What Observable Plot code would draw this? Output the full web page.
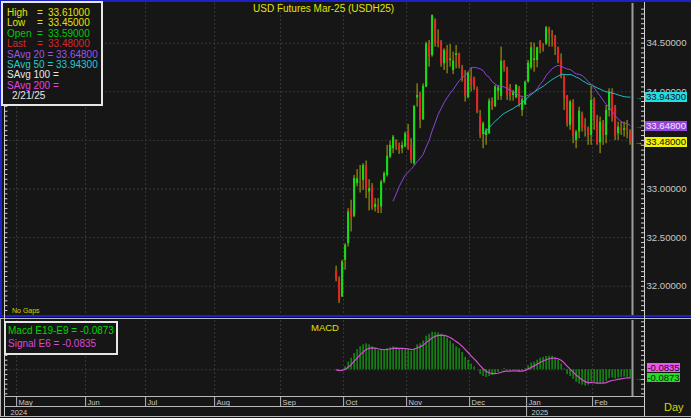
<!DOCTYPE html>
<html><head><meta charset="utf-8">
<script src="https://cdn.jsdelivr.net/npm/d3@7"></script>
<script src="https://cdn.jsdelivr.net/npm/@observablehq/plot@0.6"></script>
<style>
html,body{margin:0;padding:0;background:#161616;}
#wrap{position:relative;width:691px;height:418px;background:#161616;overflow:hidden;font-family:"Liberation Sans",Arial,sans-serif;}
#wrap div{position:absolute;box-sizing:border-box;white-space:pre;}
#wrap svg{display:block;}
</style></head>
<body><div id="wrap"></div>
<script>
// ---------------- data ----------------
const title = "USD Futures Mar-25 (USDH25)";
const firstBarDate = "2024-09-26";
const lastBarDate = "2025-02-21";
const noTradeDays = ["2024-10-14","2024-10-21","2024-12-24","2024-12-25","2024-12-31","2025-01-01","2025-02-07","2025-02-17"];
const monthLabels = ["May","Jun","Jul","Aug","Sep","Oct","Nov","Dec","Jan","Feb"];
const monthStarts = ["2024-05-01","2024-06-01","2024-07-01","2024-08-01","2024-09-01","2024-10-01","2024-11-01","2024-12-01","2025-01-01","2025-02-01"];
const yearLabels = ["2024","2025"];
const yearStarts = ["2024-01-01","2025-01-01"];
const priceTicks = [32, 32.5, 33, 33.5, 34, 34.5];

const open = [
32.154,32.068,31.890,32.267,32.438,32.788,32.719,33.055,33.072,33.089,
33.233,32.969,33.021,32.808,32.822,32.815,33.072,33.140,33.329,33.414,
33.490,33.449,33.414,33.432,33.586,33.449,33.260,33.938,33.979,33.712,
34.048,34.500,34.373,34.740,34.521,34.510,34.288,34.432,34.322,34.219,
34.373,34.384,34.247,34.134,33.938,34.151,34.134,34.031,33.747,33.562,
33.550,33.568,33.918,33.849,34.007,33.952,34.305,34.236,34.041,33.962,
33.938,34.031,33.808,33.866,34.099,34.247,34.322,34.322,34.510,34.442,
34.493,34.640,34.589,34.562,34.452,34.322,34.151,33.952,33.654,33.887,
33.500,33.586,33.767,33.654,33.620,33.551,33.918,33.712,33.473,33.678,
33.551,33.808,33.997,33.842,33.568,33.620,33.603,33.630,33.590];
const high = [
32.205,32.096,32.267,32.438,32.798,32.884,33.140,33.199,33.243,33.260,
33.288,33.096,33.055,32.901,32.901,33.089,33.175,33.449,33.493,33.551,
33.507,33.473,33.483,33.586,33.664,33.517,33.860,34.082,33.997,34.082,
34.510,34.527,34.790,34.750,34.637,34.527,34.442,34.476,34.486,34.408,
34.476,34.397,34.271,34.219,34.202,34.247,34.151,34.048,33.808,33.688,
33.620,33.928,33.938,34.065,34.065,34.459,34.322,34.253,34.075,34.014,
34.075,34.055,33.938,34.110,34.322,34.507,34.500,34.459,34.527,34.493,
34.671,34.664,34.630,34.579,34.459,34.390,34.168,33.962,33.911,33.918,
33.603,33.842,33.791,33.723,33.637,34.055,33.938,33.757,33.740,33.705,
33.860,34.031,34.031,33.860,33.688,33.688,33.688,33.705,33.610];
const low = [
32.044,31.822,31.884,32.164,32.404,32.558,32.705,33.021,32.959,32.986,
32.901,32.774,32.781,32.764,32.747,32.747,33.055,33.123,33.312,33.363,
33.397,33.356,33.363,33.425,33.397,33.260,33.243,33.842,33.620,33.705,
34.041,34.253,34.356,34.459,34.452,34.253,34.219,34.185,34.253,34.178,
34.236,34.236,34.099,33.894,33.928,33.997,34.014,33.774,33.517,33.414,
33.450,33.560,33.808,33.836,33.911,33.911,34.202,33.911,33.904,33.904,
33.928,33.842,33.747,33.860,34.089,34.226,34.202,34.247,34.390,34.408,
34.476,34.459,34.459,34.373,34.288,34.134,33.808,33.637,33.603,33.466,
33.414,33.517,33.586,33.534,33.449,33.449,33.603,33.449,33.363,33.449,
33.466,33.740,33.688,33.500,33.500,33.551,33.534,33.517,33.450];
const close = [
32.068,31.849,32.250,32.421,32.764,32.705,33.106,33.106,33.062,33.243,
32.986,33.003,32.798,32.842,32.788,33.072,33.158,33.336,33.449,33.534,
33.449,33.397,33.449,33.568,33.414,33.295,33.849,33.962,33.705,34.055,
34.493,34.356,34.784,34.493,34.493,34.288,34.425,34.305,34.336,34.315,
34.390,34.271,34.134,33.952,34.192,34.065,34.048,33.791,33.551,33.671,
33.600,33.904,33.842,34.048,34.041,34.315,34.236,33.962,33.952,33.997,
34.065,33.870,33.918,34.099,34.295,34.452,34.339,34.452,34.452,34.432,
34.658,34.603,34.562,34.459,34.305,34.151,33.938,33.671,33.894,33.541,
33.586,33.801,33.630,33.603,33.551,33.911,33.705,33.459,33.688,33.551,
33.808,33.997,33.733,33.551,33.637,33.610,33.620,33.603,33.480];
const macd = [
0.000,-0.020,-0.010,0.030,0.080,0.120,0.170,0.210,0.240,0.260,
0.270,0.260,0.240,0.220,0.200,0.200,0.200,0.220,0.230,0.240,
0.230,0.220,0.220,0.220,0.210,0.190,0.220,0.260,0.270,0.300,
0.350,0.370,0.390,0.390,0.385,0.370,0.350,0.330,0.300,0.270,
0.240,0.220,0.180,0.130,0.100,0.060,0.030,0.000,-0.050,-0.070,
-0.080,-0.070,-0.060,-0.040,-0.030,0.000,0.010,-0.010,-0.010,-0.010,
-0.010,-0.020,-0.010,0.010,0.040,0.070,0.080,0.100,0.120,0.130,
0.140,0.140,0.140,0.120,0.100,0.060,0.010,-0.050,-0.070,-0.100,
-0.130,-0.150,-0.160,-0.170,-0.160,-0.130,-0.140,-0.150,-0.140,-0.140,
-0.120,-0.090,-0.085,-0.095,-0.085,-0.080,-0.075,-0.078,-0.0873];
const signal = [
0.000,-0.006,-0.007,0.004,0.026,0.053,0.087,0.122,0.156,0.186,
0.210,0.224,0.229,0.226,0.219,0.213,0.209,0.212,0.217,0.224,
0.225,0.224,0.223,0.222,0.219,0.211,0.214,0.227,0.239,0.256,
0.283,0.308,0.331,0.348,0.358,0.361,0.358,0.350,0.336,0.317,
0.295,0.273,0.246,0.213,0.180,0.146,0.113,0.081,0.044,0.011,
-0.015,-0.031,-0.039,-0.039,-0.036,-0.026,-0.016,-0.014,-0.013,-0.012,
-0.011,-0.014,-0.013,-0.006,0.007,0.025,0.041,0.058,0.076,0.091,
0.105,0.115,0.122,0.121,0.115,0.099,0.073,0.038,0.007,-0.024,
-0.054,-0.081,-0.104,-0.123,-0.134,-0.133,-0.135,-0.139,-0.139,-0.139,
-0.134,-0.121,-0.111,-0.106,-0.100,-0.094,-0.088,-0.085,-0.0835];

const legendLabels = ["High","Low","Open","Last","SAvg 20","SAvg 50","SAvg 100","SAvg 200"];
const legendValues = ["33.61000","33.45000","33.59000","33.48000","33.64800","33.94300","",""];
const legendDate = "2/21/25";
const macdLegend = ["Macd E19-E9 = -0.0873","Signal E6 = -0.0835"];
const macdTagValues = [-0.0873, -0.0835];

// ---------------- styles ----------------
const C = {bg:"#161616", grid:"#3a3a3a", wick:"#b2ae00", up:"#16dc16", down:"#e22626",
  s20:"#8c46da", s50:"#1fbcbc", macd:"#12cc12", sig:"#d24ed2", axis:"#c8c8c8",
  yellow:"#e2e200", frame:"#b8b8b8", blue:"#1c22c4"};
const legendColors = [C.yellow, C.yellow, "#00cc00", "#d42a2a", "#9a55e6", "#22cccc", "#e8e8e8", "#e044e0"];

// ---------------- derived structure ----------------
const parse = d3.utcParse("%Y-%m-%d"), fmt = d3.utcFormat("%Y-%m-%d");
const first = parse(firstBarDate), last = parse(lastBarDate);
const isWeekday = d => d.getUTCDay() !== 0 && d.getUTCDay() !== 6;
const skip = new Set(noTradeDays);
const barDates = d3.utcDays(first, d3.utcDay.offset(last, 1)).filter(d => isWeekday(d) && !skip.has(fmt(d)));
const bars = open.map((o, i) => ({i, date: barDates[i], open: o, high: high[i], low: low[i], close: close[i], macd: macd[i], signal: signal[i]}));
const xDomain = [-110.2, 98.8];
function slotOf(d) {
  if (d >= first) return bars.findIndex(b => b.date >= d);
  return -d3.utcDays(d, first).filter(isWeekday).length;
}
const monthTicks = monthStarts.map((s, k) => ({label: monthLabels[k], slot: slotOf(parse(s)) - 0.5}));
const yearTicks = yearStarts.map((s, k) => ({label: yearLabels[k], slot: Math.max(xDomain[0], slotOf(parse(s)) - 0.5)}));
const up = d => d.close >= d.open;
const minorP = d3.range(31.75, 34.9, 0.05);
const minorM = d3.range(-0.25, 0.51, 0.05);
const font = {fontFamily: "Liberation Sans, Arial, sans-serif", background: "transparent"};

const wrap = document.getElementById("wrap");
function place(el, x, y) { el.style.position = "absolute"; el.style.left = x + "px"; el.style.top = y + "px"; wrap.appendChild(el); return el; }
function div(x, y, w, h, css, text) {
  const d = document.createElement("div");
  d.style.cssText = `left:${x}px;top:${y}px;width:${w}px;height:${h}px;${css || ""}`;
  if (text !== undefined) d.textContent = text;
  wrap.appendChild(d); return d;
}
function txt(x, y, text, color, size, css) {
  const d = document.createElement("div");
  d.style.cssText = `left:${x}px;top:${y}px;color:${color};font-size:${size}px;line-height:${Math.round(size*1.2)}px;${css || ""}`;
  d.textContent = text; wrap.appendChild(d); return d;
}

// ---------------- main price panel ----------------
const main = Plot.plot({
  width: 691, height: 317, marginLeft: 5, marginRight: 59, marginTop: 3, marginBottom: 2,
  style: font,
  x: {domain: xDomain, axis: null},
  y: {domain: [31.699, 34.908], axis: null},
  color: {type: "identity"},
  marks: [
    Plot.ruleY(priceTicks, {stroke: C.grid, strokeDasharray: "2,2"}),
    Plot.ruleX(monthTicks, {x: "slot", stroke: C.grid, strokeDasharray: "2,2"}),
    Plot.ruleX(bars, {x: "i", y1: "low", y2: "high", stroke: C.wick, strokeWidth: 1}),
    Plot.ruleX(bars, {x: "i", y1: "open", y2: "close", stroke: d => up(d) ? C.up : C.down, strokeWidth: 2.1}),
    Plot.lineY(bars, Plot.windowY({k: 50, anchor: "end", strict: true}, {x: "i", y: "close", stroke: C.s50, strokeWidth: 1})),
    Plot.lineY(bars, Plot.windowY({k: 20, anchor: "end", strict: true}, {x: "i", y: "close", stroke: C.s20, strokeWidth: 1})),
    Plot.ruleX([xDomain[1]], {stroke: "#9c9c9c", strokeWidth: 2}),
    Plot.ruleY(minorP, {x1: xDomain[0], x2: xDomain[0] + 0.8, stroke: "#d0d0d0"}),
    Plot.ruleY(minorP, {x1: xDomain[1] + 3, x2: xDomain[1] + 4, stroke: "#d0d0d0"}),
    Plot.text(priceTicks, {x: xDomain[1], y: d => d, dx: 14, text: d => d.toFixed(5), textAnchor: "start", fill: C.axis, fontSize: 9.6}),
    Plot.text([+legendValues[5], +legendValues[4], +legendValues[3]], {x: xDomain[1], y: d => d, dx: 6, text: () => "→", fill: (d, k) => [C.s50, "#9a55e6", C.yellow][k], fontSize: 8})
  ]
});
place(main, 0, 0);

// ---------------- MACD panel ----------------
const macdPlot = Plot.plot({
  width: 691, height: 78, marginLeft: 5, marginRight: 59, marginTop: 1, marginBottom: 1,
  style: font,
  x: {domain: xDomain, axis: null},
  y: {domain: [-0.278, 0.5135], axis: null},
  marks: [
    Plot.ruleY([0], {stroke: C.grid, strokeDasharray: "2,2"}),
    Plot.ruleX(monthTicks, {x: "slot", stroke: C.grid, strokeDasharray: "2,2"}),
    Plot.ruleX(bars, {x: "i", y1: 0, y2: "macd", stroke: C.macd, strokeWidth: 1}),
    Plot.lineY(bars, {x: "i", y: "signal", stroke: C.sig, strokeWidth: 1.2}),
    Plot.ruleX([xDomain[1]], {stroke: "#9c9c9c", strokeWidth: 2}),
    Plot.ruleY(minorM, {x1: xDomain[0], x2: xDomain[0] + 0.8, stroke: "#d0d0d0"}),
    Plot.ruleY(minorM, {x1: xDomain[1] + 3, x2: xDomain[1] + 4, stroke: "#d0d0d0"}),
    Plot.text([macdTagValues[0]], {x: xDomain[1], y: d => d, dx: 6, text: () => "→", fill: C.macd, fontSize: 8})
  ]
});
place(macdPlot, 0, 319);

// ---------------- time axis band ----------------
const axisPlot = Plot.plot({
  width: 691, height: 20, marginLeft: 5, marginRight: 59, marginTop: 0, marginBottom: 0,
  style: font,
  x: {domain: xDomain, axis: null},
  y: {domain: [0, 2], axis: null},
  marks: [
    Plot.ruleX(monthTicks, {x: "slot", y1: 1, y2: 2, stroke: C.frame}),
    Plot.text(monthTicks, {x: "slot", y: 1.45, text: "label", dx: 2, textAnchor: "start", fill: C.axis, fontSize: 7.5}),
    Plot.ruleX(yearTicks.filter(d => d.slot > xDomain[0]), {x: "slot", y1: 0, y2: 1, stroke: C.frame}),
    Plot.text(yearTicks, {x: "slot", y: 0.5, text: "label", dx: d => 0, textAnchor: "start", fill: C.axis, fontSize: 7.5, dx: 5})
  ]
});
place(axisPlot, 0, 397);

// ---------------- frame lines ----------------
div(0, 0, 691, 2, `background:${C.blue}`);
div(0, 0, 2, 317, `background:${C.blue}`);
div(0, 315, 691, 2, `background:${C.blue}`);
div(0, 318, 691, 1, `background:${C.frame}`);
div(0, 318, 1, 99, `background:${C.frame}`);
div(4, 2, 1, 415, `background:#d0d0d0`);
div(644, 2, 1, 415, `background:#d0d0d0`);
div(4, 396, 641, 1, `background:${C.frame}`);
div(4, 406, 641, 1, `background:${C.frame}`);
div(0, 416, 691, 1, `background:${C.frame}`);

// ---------------- titles ----------------
txt(253, 3, title, C.yellow, 10);
txt(311, 322, "MACD", C.yellow, 9.5);
txt(12, 307, "No Gaps", "#d4d400", 7);
txt(664, 401, "Day", "#d8d800", 11);

// ---------------- price tags ----------------
const ys = main.scale("y");
[[+legendValues[5], "#22dddd", "#101030"], [+legendValues[4], "#9444dc", "#f0e8ff"], [+legendValues[3], "#f2f200", "#101010"]].forEach(([v, bg, fg]) => {
  const cy = ys.apply(v);
  div(645, cy - 5, 42, 10, `background:${bg};color:${fg};font-size:9.6px;line-height:10px;text-align:center`, v.toFixed(5));
});
const ym = macdPlot.scale("y");
const yMacd = 319 + ym.apply(macdTagValues[0]);
let ySig = 319 + ym.apply(macdTagValues[1]);
if (Math.abs(ySig - yMacd) < 10) ySig = yMacd - 10;
div(647, yMacd - 4.5, 33, 9, `background:#22dd22;color:#101010;font-size:9.5px;line-height:9px;text-align:center`, macdTagValues[0].toFixed(4));
div(647, ySig - 4.5, 33, 9, `background:#ee55ee;color:#101010;font-size:9.5px;line-height:9px;text-align:center`, macdTagValues[1].toFixed(4));

// ---------------- legend boxes ----------------
div(1, 1, 102, 105, `background:${C.bg};border:2px solid #e6e6e6`);
legendLabels.forEach((lab, k) => {
  const y = 7 + k * 10.4;
  if (k < 4) {
    txt(7, y, lab, legendColors[k], 10);
    txt(37, y, "=", legendColors[k], 10);
    txt(48, y, legendValues[k], legendColors[k], 10);
  } else {
    txt(7, y, lab + " = " + legendValues[k], legendColors[k], 10);
  }
});
txt(12, 7 + 8 * 10.4, legendDate, "#e8e8e8", 10);

div(4, 321, 114, 34, `background:${C.bg};border:2px solid #e6e6e6`);
txt(8, 325, macdLegend[0], "#00d400", 10);
txt(8, 338, macdLegend[1], "#d84ad8", 10);
</script>
</body></html>
